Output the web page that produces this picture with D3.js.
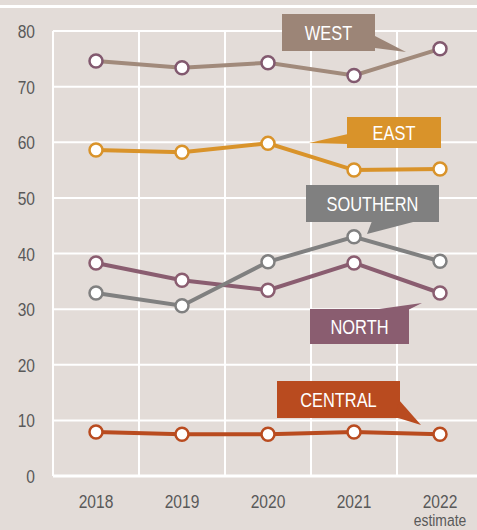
<!DOCTYPE html>
<html>
<head>
<meta charset="utf-8">
<script src="https://cdn.jsdelivr.net/npm/d3@7"></script>
<style>
  body { margin: 0; background: #e3dcd8; }
  svg { display: block; }
  text { font-family: "Liberation Sans", Arial, sans-serif; }
</style>
</head>
<body>
<svg id="chart" width="477" height="530"></svg>
<script>
var years = ["2018", "2019", "2020", "2021", "2022"];
var yTicks = [0, 10, 20, 30, 40, 50, 60, 70, 80];

var west = [74.6, 73.4, 74.3, 72.0, 76.8];
var east = [58.6, 58.2, 59.8, 55.0, 55.2];
var southern = [32.9, 30.6, 38.5, 43.0, 38.6];
var north = [38.3, 35.2, 33.4, 38.3, 32.9];
var central = [7.9, 7.5, 7.5, 7.9, 7.5];

var series = [
  { name: "NORTH", values: north, color: "#8a5d70", marker: "#8a5d70" },
  { name: "SOUTHERN", values: southern, color: "#808080", marker: "#808080" },
  { name: "WEST", values: west, color: "#a18a7b", marker: "#82596f" },
  { name: "EAST", values: east, color: "#d9932a", marker: "#d9932a" },
  { name: "CENTRAL", values: central, color: "#b94b1f", marker: "#b94b1f" }
];

var svg = d3.select("#chart"),
  width = 477,
  height = 530;

var x = d3.scaleBand().domain(years).range([53, 483]);
var y = d3.scaleLinear().domain([0, 80]).range([476, 31]);

// narrow-looking text: squeeze horizontally
function narrowText(sel, tx, ty) {
  return sel.attr("transform", "translate(" + tx + "," + ty + ") scale(0.82,1)");
}

// top rule
svg.append("rect")
  .attr("x", 0).attr("y", 5)
  .attr("width", width).attr("height", 3)
  .attr("fill", "#fff");

// grid
var grid = svg.append("g").attr("class", "grid");
grid.selectAll("line.h")
  .data(yTicks)
  .enter().append("line")
  .attr("x1", 53).attr("x2", width)
  .attr("y1", function(d) { return y(d); })
  .attr("y2", function(d) { return y(d); })
  .attr("stroke", "#fff")
  .attr("stroke-width", function(d) { return d === 0 ? 3 : 2; });

grid.selectAll("line.v")
  .data(years)
  .enter().append("line")
  .attr("x1", function(d) { return x(d); })
  .attr("x2", function(d) { return x(d); })
  .attr("y1", y(80)).attr("y2", y(0))
  .attr("stroke", "#fff")
  .attr("stroke-width", 2);

// y labels
yTicks.forEach(function(d) {
  narrowText(svg.append("text"), 35, y(d) + 7)
    .attr("text-anchor", "end")
    .attr("fill", "#595959")
    .style("font-size", "19px")
    .text(d);
});

// x labels
years.forEach(function(d) {
  narrowText(svg.append("text"), x(d) + x.bandwidth() / 2, 508)
    .attr("text-anchor", "middle")
    .attr("fill", "#595959")
    .style("font-size", "19px")
    .text(d);
});

narrowText(svg.append("text"), x("2022") + x.bandwidth() / 2, 526)
  .attr("text-anchor", "middle")
  .attr("fill", "#595959")
  .style("font-size", "17px")
  .text("estimate");

var line = d3.line()
  .x(function(d, i) { return x(years[i]) + x.bandwidth() / 2; })
  .y(function(d) { return y(d); });

// callout boxes: box rect plus tail triangle
var callouts = [
  { name: "WEST", color: "#9c8577", box: [282, 14, 93, 37], tail: [[375, 36], [406, 52], [375, 48]] },
  { name: "EAST", color: "#d9932a", box: [347, 117, 94, 31], tail: [[348, 134], [309, 143], [348, 144]] },
  { name: "SOUTHERN", color: "#808080", box: [306, 185, 133, 37], tail: [[372, 221], [367, 234], [417, 221]] },
  { name: "NORTH", color: "#8a5d70", box: [310, 309, 99, 35], tail: [[372, 310], [422, 303], [408, 310]] },
  { name: "CENTRAL", color: "#b94b1f", box: [277, 381, 123, 37], tail: [[399, 400], [421, 425], [395, 417]] }
];

var labels = svg.append("g").attr("class", "labels");
callouts.forEach(function(c) {
  labels.append("rect")
    .attr("x", c.box[0]).attr("y", c.box[1])
    .attr("width", c.box[2]).attr("height", c.box[3])
    .attr("fill", c.color);
  labels.append("path")
    .attr("d", "M" + c.tail.join("L") + "Z")
    .attr("fill", c.color);
  narrowText(labels.append("text"), c.box[0] + c.box[2] / 2, c.box[1] + c.box[3] / 2 + 7)
    .attr("text-anchor", "middle")
    .attr("fill", "#fff")
    .style("font-size", "20px")
    .text(c.name);
});

var lines = svg.append("g").attr("class", "series");
series.forEach(function(s) {
  var g = lines.append("g");
  g.append("path")
    .datum(s.values)
    .attr("d", line)
    .attr("fill", "none")
    .attr("stroke", s.color)
    .attr("stroke-width", 4);
  g.selectAll("circle")
    .data(s.values)
    .enter().append("circle")
    .attr("cx", function(d, i) { return x(years[i]) + x.bandwidth() / 2; })
    .attr("cy", function(d) { return y(d); })
    .attr("r", 6.5)
    .attr("fill", "#fff")
    .attr("stroke", s.marker)
    .attr("stroke-width", 2.5);
});
</script>
</body>
</html>
